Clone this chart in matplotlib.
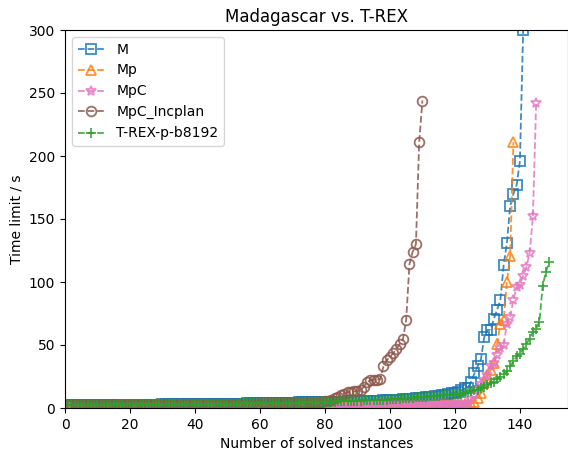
import numpy as np
import matplotlib
matplotlib.use("Agg")
from matplotlib import pyplot as plt

# sorted solve times per planner (s); x is the count of solved instances
m_times = [
    2.0, 2.0, 2.1, 2.1, 2.1, 2.2, 2.2, 2.2, 2.3, 2.3, 2.3, 2.3, 2.4, 2.4, 2.4, 2.4, 2.5, 2.5, 2.5, 2.5,
    2.5, 2.6, 2.6, 2.6, 2.6, 2.7, 2.7, 2.7, 2.7, 2.8, 2.8, 2.8, 2.8, 2.9, 2.9, 2.9, 3.0, 3.0, 3.0, 3.0,
    3.1, 3.1, 3.1, 3.2, 3.2, 3.2, 3.3, 3.3, 3.3, 3.4, 3.4, 3.4, 3.5, 3.5, 3.5, 3.6, 3.6, 3.7, 3.7, 3.8,
    3.8, 3.9, 3.9, 4.0, 4.0, 4.1, 4.1, 4.2, 4.2, 4.3, 4.3, 4.4, 4.4, 4.5, 4.5, 4.6, 4.6, 4.7, 4.7, 4.8,
    4.8, 4.9, 4.9, 5.0, 5.0, 5.1, 5.2, 5.2, 5.3, 5.4, 5.4, 5.5, 5.6, 5.6, 5.7, 5.8, 5.9, 6.0, 6.1, 6.2,
    6.3, 6.4, 6.6, 6.8, 7.0, 7.2, 7.4, 7.6, 7.9, 8.2, 8.5, 8.8, 9.1, 9.5, 9.9, 10.3, 10.7, 11.2, 11.7, 12.2,
    13.0, 14.5, 15.5, 16.0, 21.0, 27.5, 33.0, 38.6, 56.0, 62.0, 62.0, 71.0, 78.0, 86.0, 113.5, 131.0,
    160.0, 170.0, 177.0, 196.0, 300.0,
]
mp_times = [
    0.8, 0.8, 0.8, 0.8, 0.8, 0.9, 0.9, 0.9, 0.9, 0.9, 0.9, 1.0, 1.0, 1.0, 1.0, 1.0, 1.0, 1.1, 1.1, 1.1,
    1.1, 1.1, 1.1, 1.2, 1.2, 1.2, 1.2, 1.2, 1.2, 1.3, 1.3, 1.3, 1.3, 1.3, 1.3, 1.4, 1.4, 1.4, 1.4, 1.4,
    1.4, 1.5, 1.5, 1.5, 1.5, 1.5, 1.5, 1.6, 1.6, 1.6, 1.6, 1.6, 1.6, 1.7, 1.7, 1.7, 1.7, 1.7, 1.7, 1.8,
    1.8, 1.8, 1.8, 1.8, 1.8, 1.9, 1.9, 1.9, 1.9, 1.9, 1.9, 2.0, 2.0, 2.0, 2.0, 2.0, 2.0, 2.1, 2.1, 2.1,
    2.1, 2.1, 2.1, 2.2, 2.2, 2.2, 2.2, 2.2, 2.2, 2.3, 2.3, 2.3, 2.3, 2.3, 2.3, 2.4, 2.4, 2.4, 2.4, 2.4,
    2.4, 2.5, 2.5, 2.5, 2.5, 2.5, 2.6, 2.6, 2.6, 2.6, 2.7, 2.7, 2.7, 2.7, 2.8, 2.8, 2.8, 2.9, 2.9, 2.9,
    3.0, 3.0, 3.1, 3.2, 3.5, 5.0, 8.0, 11.6, 19.6, 26.0, 30.0, 35.5, 51.0, 66.7, 70.0, 100.0, 121.0, 211.0,
]
mpc_times = [
    0.4, 0.4, 0.4, 0.4, 0.4, 0.5, 0.5, 0.5, 0.5, 0.5, 0.5, 0.5, 0.5, 0.6, 0.6, 0.6, 0.6, 0.6, 0.6, 0.6,
    0.6, 0.7, 0.7, 0.7, 0.7, 0.7, 0.7, 0.7, 0.8, 0.8, 0.8, 0.8, 0.8, 0.8, 0.8, 0.9, 0.9, 0.9, 0.9, 0.9,
    0.9, 1.0, 1.0, 1.0, 1.0, 1.0, 1.0, 1.1, 1.1, 1.1, 1.1, 1.1, 1.1, 1.2, 1.2, 1.2, 1.2, 1.2, 1.3, 1.3,
    1.3, 1.3, 1.3, 1.4, 1.4, 1.4, 1.4, 1.4, 1.5, 1.5, 1.5, 1.5, 1.5, 1.6, 1.6, 1.6, 1.6, 1.7, 1.7, 1.7,
    1.7, 1.8, 1.8, 1.8, 1.8, 1.9, 1.9, 1.9, 1.9, 2.0, 2.0, 2.0, 2.0, 2.1, 2.1, 2.1, 2.1, 2.2, 2.2, 2.2,
    2.3, 2.3, 2.3, 2.4, 2.4, 2.4, 2.5, 2.5, 2.5, 2.6, 2.6, 2.7, 2.7, 2.8, 2.8, 2.9, 2.9, 3.0, 3.0, 3.1,
    3.2, 3.3, 3.5, 4.0, 7.0, 10.0, 15.0, 19.0, 22.0, 26.0, 33.0, 36.0, 42.0, 48.0, 50.0, 67.0, 72.0,
    86.0, 96.0, 98.0, 105.0, 112.0, 123.0, 152.0, 242.0,
]
incplan_times = [
    2.3, 2.3, 2.3, 2.3, 2.4, 2.4, 2.4, 2.4, 2.4, 2.5, 2.5, 2.5, 2.5, 2.5, 2.5, 2.6, 2.6, 2.6, 2.6, 2.6,
    2.6, 2.7, 2.7, 2.7, 2.7, 2.7, 2.7, 2.8, 2.8, 2.8, 2.8, 2.8, 2.8, 2.9, 2.9, 2.9, 2.9, 2.9, 3.0, 3.0,
    3.0, 3.0, 3.0, 3.1, 3.1, 3.1, 3.1, 3.2, 3.2, 3.2, 3.2, 3.3, 3.3, 3.3, 3.4, 3.4, 3.4, 3.5, 3.5, 3.5,
    3.6, 3.6, 3.7, 3.7, 3.8, 3.8, 3.9, 3.9, 4.0, 4.0, 4.1, 4.1, 4.2, 4.3, 4.4, 4.5, 4.6, 4.8, 5.0, 5.2,
    5.5, 6.2, 7.7, 8.8, 10.3, 11.5, 12.5, 13.0, 13.2, 13.5, 14.0, 17.0, 20.5, 22.0, 22.3, 22.6, 22.8,
    33.0, 38.0, 40.5, 43.5, 46.5, 51.0, 54.5, 70.0, 114.0, 124.0, 130.0, 211.0, 244.0,
]
trex_times = [
    2.5, 2.5, 2.5, 2.5, 2.5, 2.6, 2.6, 2.6, 2.6, 2.6, 2.7, 2.7, 2.7, 2.7, 2.7, 2.8, 2.8, 2.8, 2.8, 2.8,
    2.9, 2.9, 2.9, 2.9, 2.9, 3.0, 3.0, 3.0, 3.0, 3.0, 3.0, 3.1, 3.1, 3.1, 3.1, 3.1, 3.2, 3.2, 3.2, 3.2,
    3.2, 3.3, 3.3, 3.3, 3.3, 3.4, 3.4, 3.4, 3.4, 3.5, 3.5, 3.5, 3.5, 3.6, 3.6, 3.6, 3.7, 3.7, 3.7, 3.8,
    3.8, 3.8, 3.9, 3.9, 4.0, 4.0, 4.0, 4.1, 4.1, 4.2, 4.2, 4.3, 4.3, 4.4, 4.4, 4.5, 4.5, 4.6, 4.7, 4.8,
    4.9, 5.0, 5.1, 5.2, 5.3, 5.4, 5.5, 5.6, 5.7, 5.8, 5.9, 6.0, 6.1, 6.2, 6.3, 6.4, 6.5, 6.6, 6.7, 6.9,
    7.0, 7.2, 7.4, 7.6, 7.8, 8.0, 8.2, 8.4, 8.6, 8.8, 9.0, 9.2, 9.4, 9.6, 9.8, 10.0, 10.2, 10.4, 10.6, 10.8,
    11.0, 11.5, 12.0, 12.5, 13.5, 14.0, 14.5, 16.0, 17.0, 18.3, 19.5, 21.0, 23.0, 25.0, 27.0, 29.0,
    33.0, 37.0, 41.0, 43.0, 47.0, 51.0, 55.0, 60.6, 63.0, 68.5, 97.0, 108.0, 116.0,
]

labels = ["M", "Mp", "MpC", "MpC_Incplan", "T-REX-p-b8192"]
series = [m_times, mp_times, mpc_times, incplan_times, trex_times]
markers = ["s", "^", "*", "o", "+"]
colors = ["#1f77b4", "#ff7f0e", "#e377c2", "#8c564b", "#2ca02c"]

fig = plt.figure(figsize=(5.68, 4.5), dpi=100)
ax = fig.add_axes([65 / 568, 42 / 450, 503 / 568, 378 / 450])

for lab, ys, mk, col in zip(labels, series, markers, colors):
    xs = np.arange(1, len(ys) + 1)
    ax.plot(xs, ys, linestyle="--", marker=mk, color=col, fillstyle="none",
            markersize=7, markeredgewidth=1.3, linewidth=1.3, alpha=0.85,
            label=lab)

ax.set_xlim(0, 154.8)
ax.set_ylim(0, 300)
ax.set_title("Madagascar vs. T-REX", fontsize=12)
ax.set_xlabel("Number of solved instances")
ax.set_ylabel("Time limit / s")
ax.legend(loc="upper left")

fig.savefig("out.png", dpi=100)
